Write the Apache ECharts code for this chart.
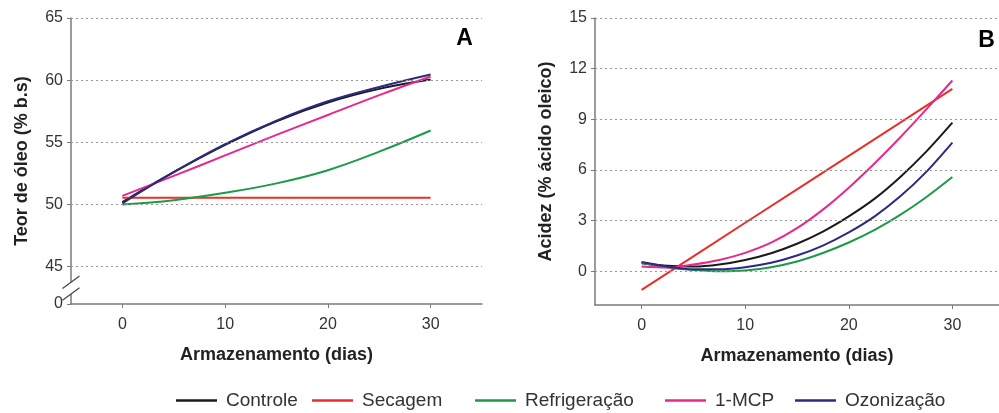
<!DOCTYPE html>
<html>
<head>
<meta charset="utf-8">
<script src="https://cdn.jsdelivr.net/npm/echarts@6/dist/echarts.min.js"></script>
<style>
html,body{margin:0;padding:0;background:#fff;}
#c{width:999px;height:413px;}
</style>
</head>
<body>
<div id="c"></div>
<script>
// ---- data ----
const daysA = [0, 5, 10, 15, 20, 25, 30];
const daysB = [0, 2.5, 5, 7.5, 10, 12.5, 15, 17.5, 20, 22.5, 25, 27.5, 30];
const daysLinear = [0, 10, 20, 30];
const seriesNames = ['Controle', 'Secagem', 'Refrigeração', '1-MCP', 'Ozonização'];
const colors = ['#1a1a1a', '#e8302a', '#1c9a48', '#e6288c', '#2b2a80'];

// Panel A: Teor de óleo (% b.s)
const oleoControle     = [50.2, 52.6, 54.8, 56.7, 58.2, 59.3, 60.05];
const oleoSecagem      = [50.55, 50.55, 50.55, 50.55];
const oleoRefrigeracao = [50.0, 50.35, 50.94, 51.7, 52.76, 54.25, 55.95];
const oleoMCP          = [50.7, 52.3, 53.95, 55.6, 57.2, 58.8, 60.3];
const oleoOzonizacao   = [50.1, 52.6, 54.85, 56.75, 58.3, 59.45, 60.45];

// Panel B: Acidez (% ácido oleico)
const acControle     = [0.47, 0.32, 0.28, 0.4, 0.67, 1.07, 1.63, 2.35, 3.25, 4.3, 5.6, 7.1, 8.8];
const acSecagem      = [-1.1, 2.87, 6.83, 10.8];
const acRefrigeracao = [0.5, 0.22, 0.08, 0.0, 0.04, 0.24, 0.58, 1.08, 1.7, 2.45, 3.35, 4.4, 5.58];
const acMCP          = [0.28, 0.22, 0.4, 0.67, 1.09, 1.69, 2.55, 3.65, 4.95, 6.4, 7.95, 9.6, 11.3];
const acOzonizacao   = [0.55, 0.28, 0.12, 0.12, 0.24, 0.5, 0.93, 1.52, 2.3, 3.25, 4.45, 5.9, 7.62];

// tick labels
const xTicks = [0, 10, 20, 30];
const yTicksA = [42, 45, 50, 55, 60, 65];   // 42 = broken-axis position shown as "0"
const yGridA = [45, 50, 55, 60, 65];
const yTicksB = [0, 3, 6, 9, 12, 15];
// ---------------

const oleo = [[daysA, oleoControle], [daysLinear, oleoSecagem], [daysA, oleoRefrigeracao], [daysA, oleoMCP], [daysA, oleoOzonizacao]];
const acid = [[daysB, acControle], [daysLinear, acSecagem], [daysB, acRefrigeracao], [daysB, acMCP], [daysB, acOzonizacao]];
const pairs = (d) => d[0].map((x, i) => [x, d[1][i]]);

const FONT = 'Liberation Sans, Arial, sans-serif';
const axisColor = '#7a7a7a';
const labelStyle = { color: '#333', fontSize: 16, fontFamily: FONT };
const nameStyle = { color: '#222', fontSize: 18, fontWeight: 'bold', fontFamily: FONT };

function xAxis(gridIndex, min, max) {
  return {
    type: 'value', gridIndex, min, max,
    name: 'Armazenamento (dias)', nameLocation: 'middle', nameGap: 42, nameTextStyle: nameStyle,
    axisLine: { show: true, onZero: false, lineStyle: { color: axisColor, width: 1.5 } },
    axisTick: { show: true, length: 4, customValues: xTicks, lineStyle: { color: axisColor } },
    axisLabel: Object.assign({ margin: 13, customValues: xTicks }, labelStyle),
    splitLine: { show: false }
  };
}

const gridLineSeries = (xi, yi, vals) => ({
  type: 'line', xAxisIndex: xi, yAxisIndex: yi, data: [], silent: true,
  markLine: {
    silent: true, symbol: 'none', label: { show: false },
    lineStyle: { color: '#999', type: [2, 3], width: 1.2 },
    data: vals.map(v => ({ yAxis: v }))
  }
});

const series = [gridLineSeries(0, 0, yGridA), gridLineSeries(1, 1, yTicksB)];
seriesNames.forEach((n, i) => {
  series.push({
    name: n, type: 'line', xAxisIndex: 0, yAxisIndex: 0, data: pairs(oleo[i]),
    smooth: 0.4, symbol: 'none', lineStyle: { color: colors[i], width: 2 }, itemStyle: { color: colors[i] }, z: 3 + (i === 4 ? 1 : 0)
  });
  series.push({
    name: n, type: 'line', xAxisIndex: 1, yAxisIndex: 1, data: pairs(acid[i]),
    smooth: 0.3, symbol: 'none', lineStyle: { color: colors[i], width: 2 }, itemStyle: { color: colors[i] }, z: 3
  });
});

const legendLefts = [171, 307, 470, 660, 790];
const legends = seriesNames.map((n, i) => ({
  data: [n], left: legendLefts[i], top: 386, icon: 'rect', itemWidth: 41, itemHeight: 2.5,
  itemGap: 0, selectedMode: false,
  textStyle: { color: '#333', fontSize: 19, fontFamily: FONT, padding: [0, 0, 0, 4] }
}));

const chart = echarts.init(document.getElementById('c'), null, { renderer: 'canvas' });
chart.setOption({
  animation: false,
  backgroundColor: '#fff',
  grid: [
    { left: 71, top: 18, width: 411, height: 286 },
    { left: 595, top: 18, width: 406, height: 287 }
  ],
  xAxis: [xAxis(0, -5, 35), xAxis(1, -4.5, 34.5)],
  yAxis: [
    {
      type: 'value', gridIndex: 0, min: 42, max: 65,
      name: 'Teor de óleo (% b.s)', nameLocation: 'middle', nameGap: 40, nameTextStyle: nameStyle,
      axisLine: { show: true, onZero: false, lineStyle: { color: axisColor, width: 1.5 } },
      axisTick: { show: true, length: 4, customValues: yTicksA, lineStyle: { color: axisColor } },
      axisLabel: Object.assign({ margin: 8, customValues: yTicksA, formatter: v => (v === 42 ? '0' : String(v)) }, labelStyle),
      splitLine: { show: false }
    },
    {
      type: 'value', gridIndex: 1, min: -2, max: 15,
      name: 'Acidez (% ácido oleico)', nameLocation: 'middle', nameGap: 40, nameTextStyle: nameStyle,
      axisLine: { show: true, onZero: false, lineStyle: { color: axisColor, width: 1.5 } },
      axisTick: { show: true, length: 4, customValues: yTicksB, lineStyle: { color: axisColor } },
      axisLabel: Object.assign({ margin: 8, customValues: yTicksB }, labelStyle),
      splitLine: { show: false }
    }
  ],
  legend: legends,
  series: series
});

// panel letters and axis-break marks
const pAx = chart.convertToPixel({ gridIndex: 0 }, [-5, 43.75]);
const pBx = chart.convertToPixel({ gridIndex: 0 }, [-5, 42.8]);
const topLetterA = chart.convertToPixel({ gridIndex: 0 }, [33.3, 63.35]);
const topLetterB = chart.convertToPixel({ gridIndex: 1 }, [33.3, 13.65]);
const slash = (p) => ({
  type: 'line', shape: { x1: p[0] - 8.5, y1: p[1] + 6.3, x2: p[0] + 8.5, y2: p[1] - 6.3 },
  style: { stroke: '#444', lineWidth: 1.2 }, z: 100
});
chart.setOption({
  graphic: [
    { type: 'rect', shape: { x: pAx[0] - 2, y: pAx[1], width: 4, height: pBx[1] - pAx[1] }, style: { fill: '#fff' }, z: 99 },
    slash(pAx), slash(pBx),
    { type: 'text', x: topLetterA[0], y: topLetterA[1], style: { text: 'A', font: 'bold 23px ' + FONT, fill: '#000', align: 'center', verticalAlign: 'middle' }, z: 100 },
    { type: 'text', x: topLetterB[0], y: topLetterB[1], style: { text: 'B', font: 'bold 23px ' + FONT, fill: '#000', align: 'center', verticalAlign: 'middle' }, z: 100 }
  ]
});
</script>
</body>
</html>
